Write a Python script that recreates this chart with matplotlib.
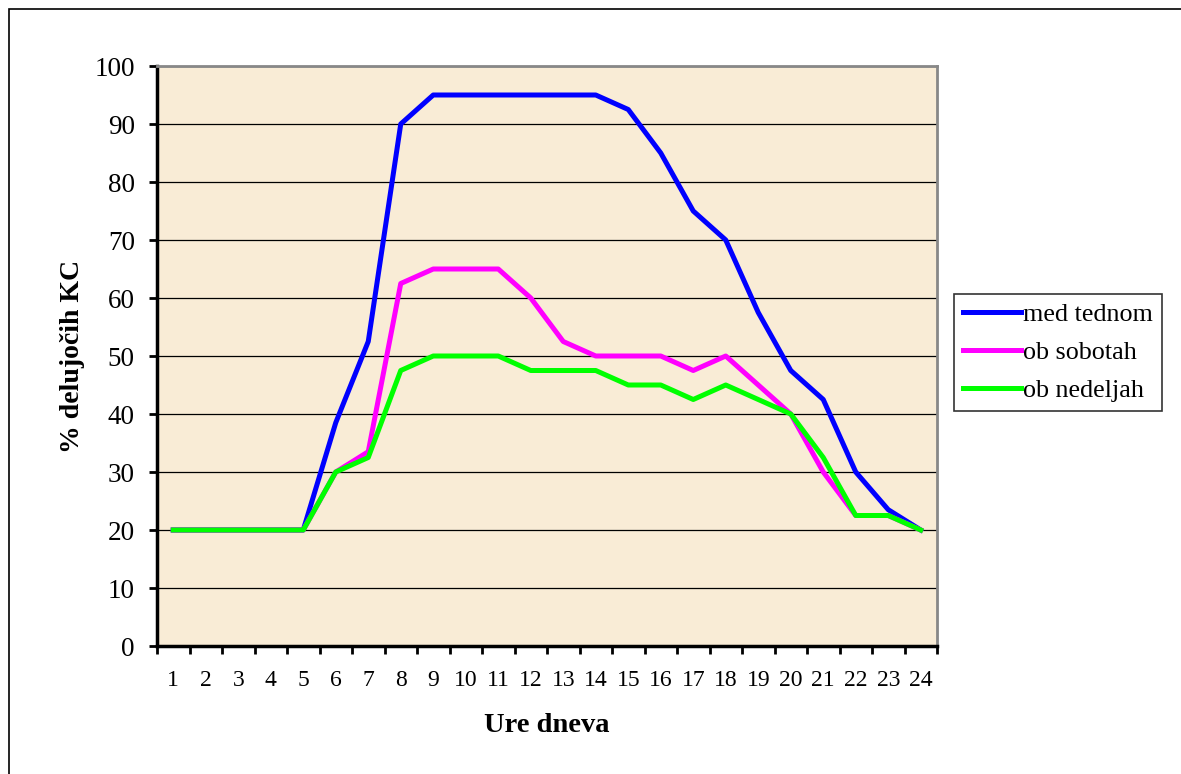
import matplotlib
matplotlib.use("Agg")
import matplotlib.pyplot as plt
from matplotlib.patches import Rectangle

# --- Podatki ---
ure = list(range(1, 25))
med_tednom = [20, 20, 20, 20, 20, 38.5, 52.5, 90, 95, 95, 95, 95, 95, 95,
              92.5, 85, 75, 70, 57.5, 47.5, 42.5, 30, 23.5, 20]
ob_sobotah = [20, 20, 20, 20, 20, 30, 33.5, 62.5, 65, 65, 65, 60, 52.5, 50,
              50, 50, 47.5, 50, 45, 40, 30, 22.5, 22.5, 20]
ob_nedeljah = [20, 20, 20, 20, 20, 30, 32.5, 47.5, 50, 50, 50, 47.5, 47.5, 47.5,
               45, 45, 42.5, 45, 42.5, 40, 32.5, 22.5, 22.5, 20]
y_ticks = list(range(0, 101, 10))

plt.rcParams['font.family'] = ['Liberation Serif', 'DejaVu Serif']

fig = plt.figure(figsize=(11.81, 7.74), dpi=100)
ax = fig.add_axes([157/1181, 1 - 646/774, 780/1181, 580/774])

# zunanji okvir (viden je samo levi in zgornji rob)
fig.patches.append(Rectangle((9/1181, -0.1), 1.2, 1 - 9/774 + 0.1,
                             transform=fig.transFigure, fill=False,
                             edgecolor='black', linewidth=1.2))

ax.set_facecolor('#F9ECD6')
ax.plot(ure, med_tednom, color='#0000FF', lw=3.6, label='med tednom')
ax.plot(ure, ob_sobotah, color='#FF00FF', lw=3.6, label='ob sobotah')
ax.plot(ure, ob_nedeljah, color='#00FF00', lw=3.6, label='ob nedeljah')

ax.set_xlim(0.5, 24.5)
ax.set_ylim(0, 100)
ax.set_yticks(y_ticks)
ax.set_xticks(ure)
ax.set_xticks([u + 0.5 for u in range(0, 25)], minor=True)
ax.tick_params(axis='x', which='major', length=0, pad=17, labelsize=17)
ax.tick_params(axis='x', which='minor', length=6, width=2, direction='out')
ax.tick_params(axis='y', which='major', length=6, width=2, direction='out',
               pad=10, labelsize=19.5)
ax.yaxis.grid(True, color='black', lw=0.9)
ax.set_axisbelow(True)

for s in ['left', 'bottom']:
    ax.spines[s].set_linewidth(2.5)
    ax.spines[s].set_color('black')
for s in ['top', 'right']:
    ax.spines[s].set_linewidth(2)
    ax.spines[s].set_color('#888888')

ax.set_xlabel('Ure dneva', fontsize=20.5, fontweight='bold', labelpad=16)
ax.set_ylabel('% delujočih KC', fontsize=20, fontweight='bold', labelpad=7)

leg = ax.legend(loc='upper left', bbox_to_anchor=(954/1181, 1 - 294/774),
                bbox_transform=fig.transFigure, fontsize=18.8, frameon=True,
                fancybox=False, edgecolor='black', borderaxespad=0,
                handlelength=2.2, handletextpad=0.1, labelspacing=0.55,
                borderpad=0.35)
leg.get_frame().set_linewidth(1.2)

fig.savefig('out.png', dpi=100, facecolor='white')
